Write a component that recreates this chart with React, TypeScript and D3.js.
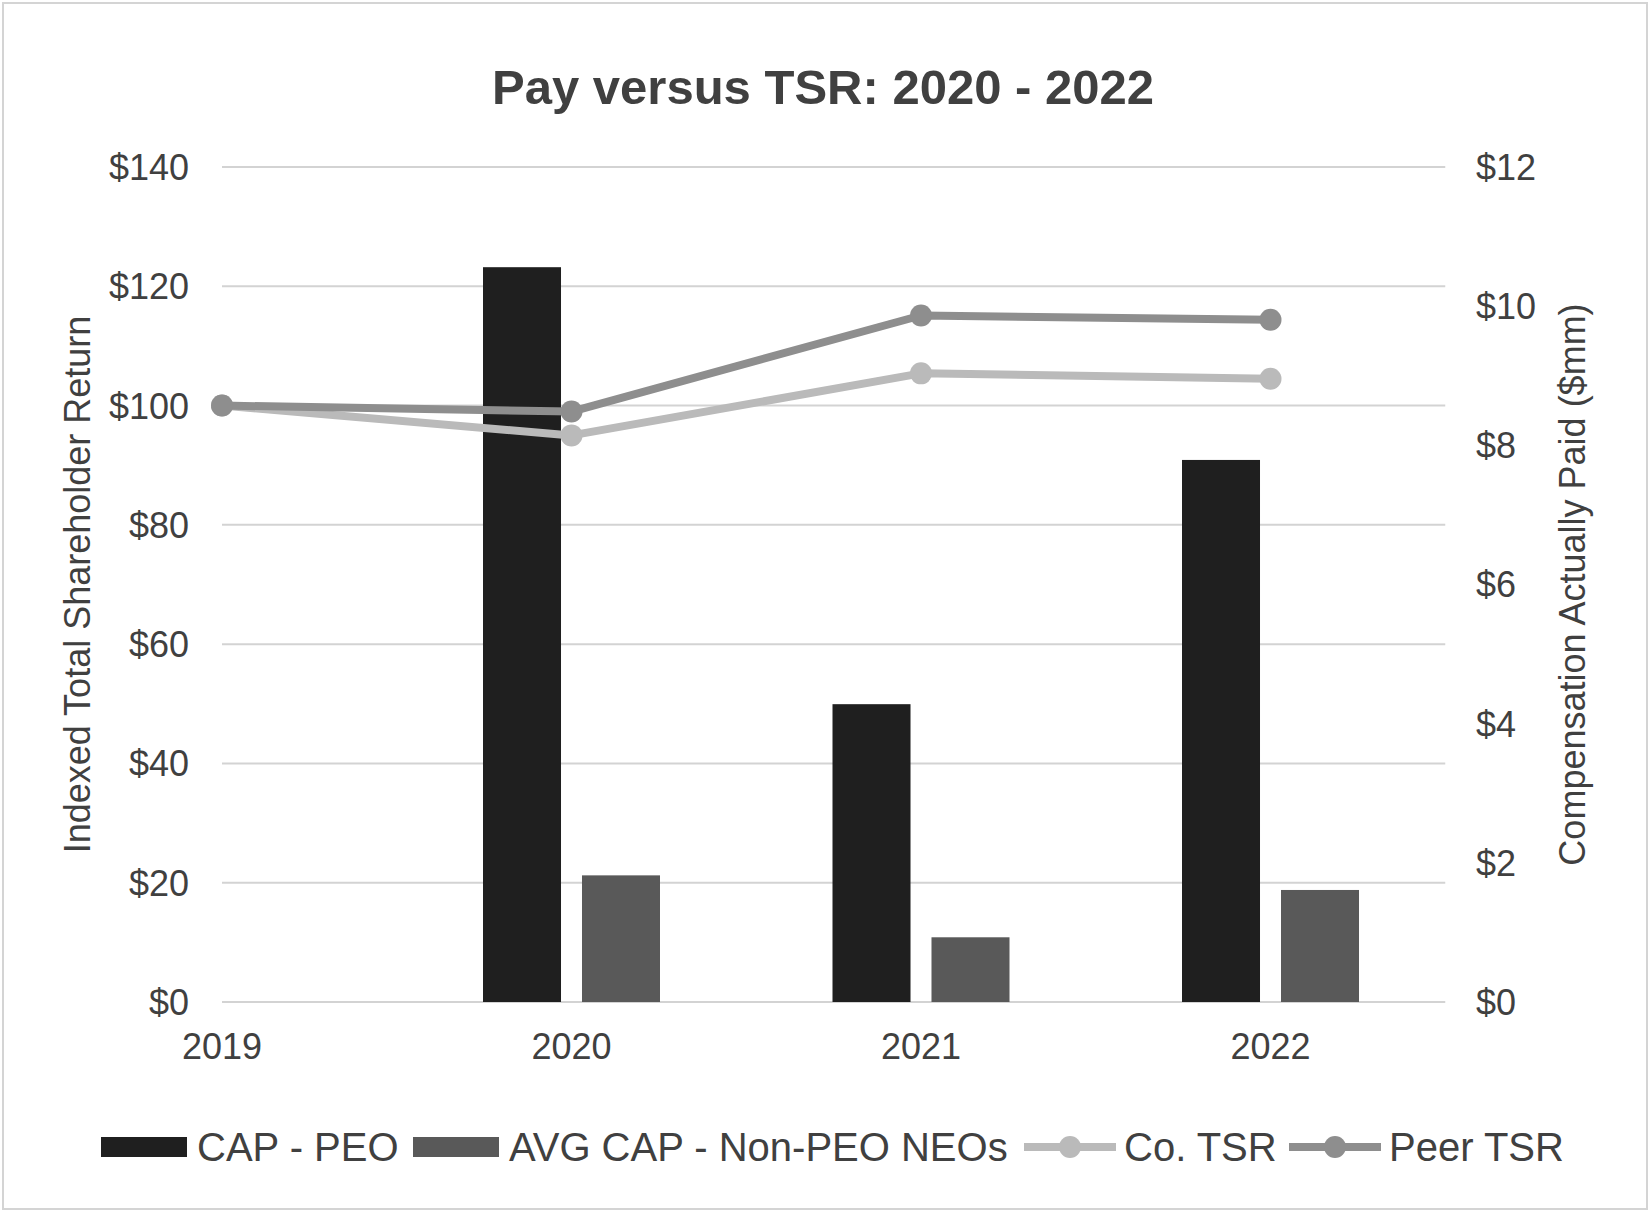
import React, { useRef, useEffect } from 'react';
import * as d3 from 'd3';

const years = ['2019', '2020', '2021', '2022'];
// Compensation Actually Paid, $mm (right axis)
const capPeo: (number | null)[] = [null, 10.56, 4.28, 7.79];
const avgCapNonPeo: (number | null)[] = [null, 1.82, 0.93, 1.61];
// Indexed TSR, $ (left axis)
const coTsr = [100, 95.0, 105.4, 104.5];
const peerTsr = [100, 99.0, 115.1, 114.4];

const leftTicks = [0, 20, 40, 60, 80, 100, 120, 140];
const rightTicks = [0, 2, 4, 6, 8, 10, 12];

const barSeries = ['CAP - PEO', 'AVG CAP - Non-PEO NEOs'];
const lineSeries = ['Co. TSR', 'Peer TSR'];

const W = 1650;
const H = 1213;
const FONT = '"Liberation Sans", Arial, Helvetica, sans-serif';
const TEXT = '#404040';
const BAR_COLORS = ['#1f1f1f', '#595959'];
const LINE_COLORS = ['#bababa', '#8e8e8e'];

const PayVsTsr: React.FC = () => {
    const ref = useRef<SVGSVGElement>(null);

    useEffect(() => {
        if (!ref.current) return;
        const svg = d3.select(ref.current);
        svg.selectAll('*').remove();

        const top = 167, bottom = 1002, left = 222;
        const x = d3.scalePoint<string>().domain(years).range([left, 1270.5]);
        const right = (x(years[years.length - 1]) as number) + x.step() / 2;
        const yL = d3.scaleLinear().domain([0, 140]).range([bottom, top]);
        const yR = d3.scaleLinear().domain([0, 12]).range([bottom, top]);
        const inner = d3.scaleBand<string>().domain(barSeries).range([-88.5, 88.5]).paddingInner(0.212);

        // border
        svg.append('rect')
            .attr('x', 3).attr('y', 3).attr('width', W - 6).attr('height', H - 7)
            .attr('fill', '#fff').attr('stroke', '#d4d4d4').attr('stroke-width', 2);

        // title
        svg.append('text')
            .attr('x', 823).attr('y', 104)
            .attr('text-anchor', 'middle')
            .attr('font-family', FONT).attr('font-size', 49).attr('font-weight', 'bold')
            .attr('fill', TEXT)
            .text('Pay versus TSR: 2020 - 2022');

        // gridlines
        svg.append('g').selectAll('line').data(leftTicks).enter().append('line')
            .attr('x1', left).attr('x2', right)
            .attr('y1', d => yL(d)).attr('y2', d => yL(d))
            .attr('stroke', '#d3d3d3').attr('stroke-width', 2);

        // left tick labels
        svg.append('g').selectAll('text').data(leftTicks).enter().append('text')
            .attr('x', 189).attr('y', d => yL(d)).attr('dy', '0.36em')
            .attr('text-anchor', 'end')
            .attr('font-family', FONT).attr('font-size', 36).attr('fill', TEXT)
            .text(d => `$${d}`);

        // right tick labels
        svg.append('g').selectAll('text').data(rightTicks).enter().append('text')
            .attr('x', 1476).attr('y', d => yR(d)).attr('dy', '0.36em')
            .attr('text-anchor', 'start')
            .attr('font-family', FONT).attr('font-size', 36).attr('fill', TEXT)
            .text(d => `$${d}`);

        // x labels
        svg.append('g').selectAll('text').data(years).enter().append('text')
            .attr('x', d => x(d) as number).attr('y', 1059)
            .attr('text-anchor', 'middle')
            .attr('font-family', FONT).attr('font-size', 36).attr('fill', TEXT)
            .text(d => d);

        // axis titles
        svg.append('text')
            .attr('transform', `translate(77, ${(top + bottom) / 2}) rotate(-90)`)
            .attr('dy', '0.36em').attr('text-anchor', 'middle')
            .attr('font-family', FONT).attr('font-size', 36).attr('fill', TEXT)
            .text('Indexed Total Shareholder Return');
        svg.append('text')
            .attr('transform', `translate(1572, ${(top + bottom) / 2}) rotate(-90)`)
            .attr('dy', '0.36em').attr('text-anchor', 'middle')
            .attr('font-family', FONT).attr('font-size', 36).attr('fill', TEXT)
            .text('Compensation Actually Paid ($mm)');

        // bars
        [capPeo, avgCapNonPeo].forEach((vals, si) => {
            const rows = years.map((yr, i) => ({ yr, v: vals[i] })).filter(r => r.v != null);
            svg.append('g').selectAll('rect').data(rows).enter().append('rect')
                .attr('x', d => (x(d.yr) as number) + (inner(barSeries[si]) as number))
                .attr('width', inner.bandwidth())
                .attr('y', d => yR(d.v as number))
                .attr('height', d => bottom - yR(d.v as number))
                .attr('fill', BAR_COLORS[si]);
        });

        // lines
        const line = d3.line<number>().x((d, i) => x(years[i]) as number).y(d => yL(d));
        [coTsr, peerTsr].forEach((vals, si) => {
            const g = svg.append('g');
            g.append('path')
                .attr('d', line(vals) as string)
                .attr('fill', 'none').attr('stroke', LINE_COLORS[si])
                .attr('stroke-width', 8).attr('stroke-linejoin', 'round');
            g.selectAll('circle').data(vals).enter().append('circle')
                .attr('cx', (d, i) => x(years[i]) as number)
                .attr('cy', d => yL(d))
                .attr('r', 11)
                .attr('fill', LINE_COLORS[si]);
        });

        // legend
        const legY = 1147;
        const legend = svg.append('g');
        const barItems = [{ x: 101, text: barSeries[0] }, { x: 413, text: barSeries[1] }];
        barItems.forEach((it, i) => {
            legend.append('rect')
                .attr('x', it.x).attr('y', legY - 10).attr('width', 86).attr('height', 20)
                .attr('fill', BAR_COLORS[i]);
            legend.append('text')
                .attr('x', it.x + 96).attr('y', 1161)
                .attr('font-family', FONT).attr('font-size', 40).attr('fill', TEXT)
                .text(it.text);
        });
        const lineItems = [{ x: 1024, text: lineSeries[0] }, { x: 1289, text: lineSeries[1] }];
        lineItems.forEach((it, i) => {
            legend.append('line')
                .attr('x1', it.x).attr('x2', it.x + 92)
                .attr('y1', legY).attr('y2', legY)
                .attr('stroke', LINE_COLORS[i]).attr('stroke-width', 8);
            legend.append('circle')
                .attr('cx', it.x + 46).attr('cy', legY).attr('r', 11)
                .attr('fill', LINE_COLORS[i]);
            legend.append('text')
                .attr('x', it.x + 100).attr('y', 1161)
                .attr('font-family', FONT).attr('font-size', 40).attr('fill', TEXT)
                .text(it.text);
        });
    }, []);

    return (
        <svg ref={ref} width={W} height={H}
            style={{ position: 'absolute', left: 0, top: 0, display: 'block', background: '#fff' }} />
    );
};

export default function App() {
    return <PayVsTsr />;
}
